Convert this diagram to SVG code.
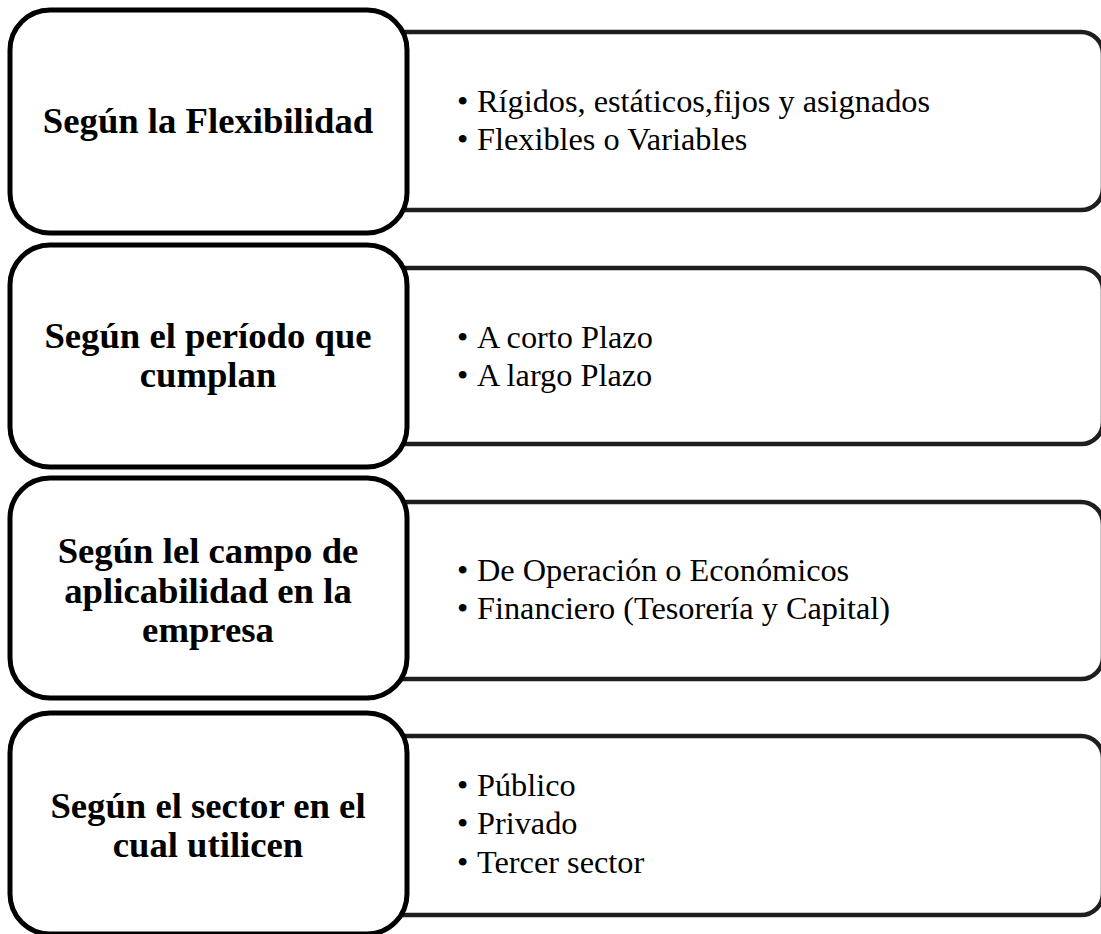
<svg xmlns="http://www.w3.org/2000/svg" width="1101" height="934" viewBox="0 0 1101 934">
<style>
.rb{fill:#fff;stroke:#1e1e1e;stroke-width:4.5}
.lb{fill:#fff;stroke:#000;stroke-width:5}
.tt{font-family:"Liberation Serif","Times New Roman",serif;font-weight:bold;font-size:36.7px;fill:#000;text-anchor:middle}
.it{font-family:"Liberation Serif","Times New Roman",serif;font-size:32.3px;fill:#000}
</style>
<rect width="1101" height="934" fill="#fff"/>
<g id="connectors"></g>
<g id="row1">
<rect class="rb" x="380" y="32" width="723" height="178" rx="22"/>
<rect class="lb" x="10" y="10" width="397" height="223" rx="40"/>
<text class="tt" x="208" y="133">Según la Flexibilidad</text>
<text class="it"><tspan x="457" y="112">•</tspan><tspan x="477" y="112">Rígidos, estáticos,fijos y asignados</tspan><tspan x="457" y="150">•</tspan><tspan x="477" y="150">Flexibles o Variables</tspan></text>
</g>
<g id="row2">
<rect class="rb" x="380" y="268" width="723" height="176" rx="22"/>
<rect class="lb" x="10" y="245" width="397" height="222" rx="40"/>
<text class="tt" x="208" y="348">Según el período que</text>
<text class="tt" x="208" y="387">cumplan</text>
<text class="it"><tspan x="457" y="348">•</tspan><tspan x="477" y="348">A corto Plazo</tspan><tspan x="457" y="386">•</tspan><tspan x="477" y="386">A largo Plazo</tspan></text>
</g>
<g id="row3">
<rect class="rb" x="380" y="502" width="723" height="177" rx="22"/>
<rect class="lb" x="10" y="478" width="397" height="220" rx="40"/>
<text class="tt" x="208" y="563">Según lel campo de</text>
<text class="tt" x="208" y="603">aplicabilidad en la</text>
<text class="tt" x="208" y="642">empresa</text>
<text class="it"><tspan x="457" y="581">•</tspan><tspan x="477" y="581">De Operación o Económicos</tspan><tspan x="457" y="619">•</tspan><tspan x="477" y="619">Financiero (Tesorería y Capital)</tspan></text>
</g>
<g id="row4">
<rect class="rb" x="380" y="736" width="723" height="179" rx="22"/>
<rect class="lb" x="10" y="713" width="397" height="221" rx="40"/>
<text class="tt" x="208" y="818">Según el sector en el</text>
<text class="tt" x="208" y="857">cual utilicen</text>
<text class="it"><tspan x="457" y="796">•</tspan><tspan x="477" y="796">Público</tspan><tspan x="457" y="834">•</tspan><tspan x="477" y="834">Privado</tspan><tspan x="457" y="873">•</tspan><tspan x="477" y="873">Tercer sector</tspan></text>
</g>
</svg>
